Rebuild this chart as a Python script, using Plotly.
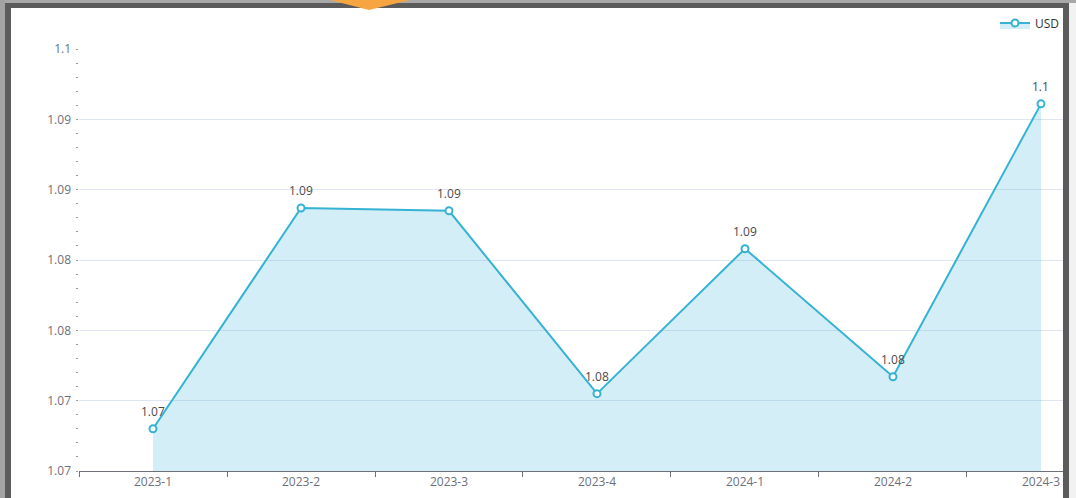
import plotly.graph_objects as go

categories = ["2023-1", "2023-2", "2023-3", "2023-4", "2024-1", "2024-2", "2024-3"]
usd_values = [1.0730, 1.0887, 1.0885, 1.0755, 1.0858, 1.0767, 1.0961]
y_tick_values = [1.07, 1.075, 1.08, 1.085, 1.09, 1.095, 1.10]
y_tick_labels = ["1.07", "1.07", "1.08", "1.08", "1.09", "1.09", "1.1"]
point_labels = [f"{round(v, 2):g}" for v in usd_values]

W, H = 1076, 498
L, R, T, B = 79, 10, 49, 27
PW, PH = W - L - R, H - T - B


def px(x):
    return (x - L) / PW


def py(y):
    return (H - B - y) / PH


line_color = "#35b2d4"
axis_color = "#6E7079"
font_family = "Open Sans, Noto Sans, sans-serif"

fig = go.Figure()
fig.add_trace(go.Scatter(
    x=categories, y=usd_values, name="USD",
    mode="lines+markers",
    line=dict(color=line_color, width=2),
    marker=dict(symbol="circle", size=7, color="white",
                line=dict(color=line_color, width=2)),
    fill="tozeroy", fillcolor="rgba(53,178,212,0.22)",
    cliponaxis=False, hoverinfo="skip",
))

annotations = [
    dict(x=c, y=v, xref="x", yref="y", text=t, showarrow=False,
         yanchor="middle", yshift=17,
         font=dict(size=12, color="#4a4a4a", family=font_family))
    for c, v, t in zip(categories, usd_values, point_labels)
]

frame_dark = "#5b5b5b"
shapes = [
    # left gray strip and dark frame
    dict(type="rect", xref="paper", yref="paper", x0=px(0), x1=px(5), y0=py(498), y1=py(0),
         fillcolor="#a3a3a3", line=dict(width=0), layer="above"),
    dict(type="rect", xref="paper", yref="paper", x0=px(5), x1=px(11), y0=py(498), y1=py(3),
         fillcolor=frame_dark, line=dict(width=0), layer="above"),
    # top gray strip and dark frame
    dict(type="rect", xref="paper", yref="paper", x0=px(5), x1=px(1076), y0=py(3), y1=py(0),
         fillcolor="#a8a8a8", line=dict(width=0), layer="above"),
    dict(type="rect", xref="paper", yref="paper", x0=px(5), x1=px(1069), y0=py(8), y1=py(3),
         fillcolor=frame_dark, line=dict(width=0), layer="above"),
    # right dark frame and light strip
    dict(type="rect", xref="paper", yref="paper", x0=px(1063), x1=px(1069), y0=py(498), y1=py(3),
         fillcolor=frame_dark, line=dict(width=0), layer="above"),
    dict(type="rect", xref="paper", yref="paper", x0=px(1069), x1=px(1076), y0=py(498), y1=py(3),
         fillcolor="#f2f2f2", line=dict(width=0), layer="above"),
    # orange pointer
    dict(type="path", xref="paper", yref="paper",
         path=f"M {px(330)},{py(0)} L {px(410)},{py(0)} L {px(369)},{py(10)} Z",
         fillcolor="#f7a540", line=dict(width=0), layer="above"),
]

fig.update_layout(
    width=W, height=H, autosize=False,
    margin=dict(l=L, r=R, t=T, b=B, pad=0, autoexpand=False),
    paper_bgcolor="white", plot_bgcolor="white",
    font=dict(family=font_family, size=12, color=axis_color),
    showlegend=True, hovermode=False,
    legend=dict(orientation="h", x=px(1065), xanchor="right", y=py(23), yanchor="middle",
                font=dict(size=12, color="#333"), bgcolor="rgba(0,0,0,0)",
                itemwidth=30),
    shapes=shapes,
    annotations=annotations,
    xaxis=dict(
        type="category", range=[-0.5, 6.169], automargin=False,
        showgrid=False, showline=True, linecolor=axis_color, linewidth=1,
        ticks="outside", ticklen=5, tickcolor=axis_color, tickson="boundaries",
        tickfont=dict(size=12, color=axis_color), zeroline=False,
    ),
    yaxis=dict(
        range=[1.07, 1.10], tickmode="array", tickvals=y_tick_values, ticktext=y_tick_labels,
        automargin=False,
        showgrid=True, gridcolor="#E0E6F1", gridwidth=1, showline=False, zeroline=False,
        ticks="", tickfont=dict(size=12, color=axis_color), ticklabelstandoff=7,
        minor=dict(ticks="outside", ticklen=2, tickcolor="#9a9a9a", tickwidth=1,
                   tick0=1.07, dtick=0.001, showgrid=False),
    ),
)

fig.write_html(
    "out.html",
    config={"staticPlot": True, "displayModeBar": False},
    post_script="document.body.style.margin='0';document.body.style.overflow='hidden';",
)
